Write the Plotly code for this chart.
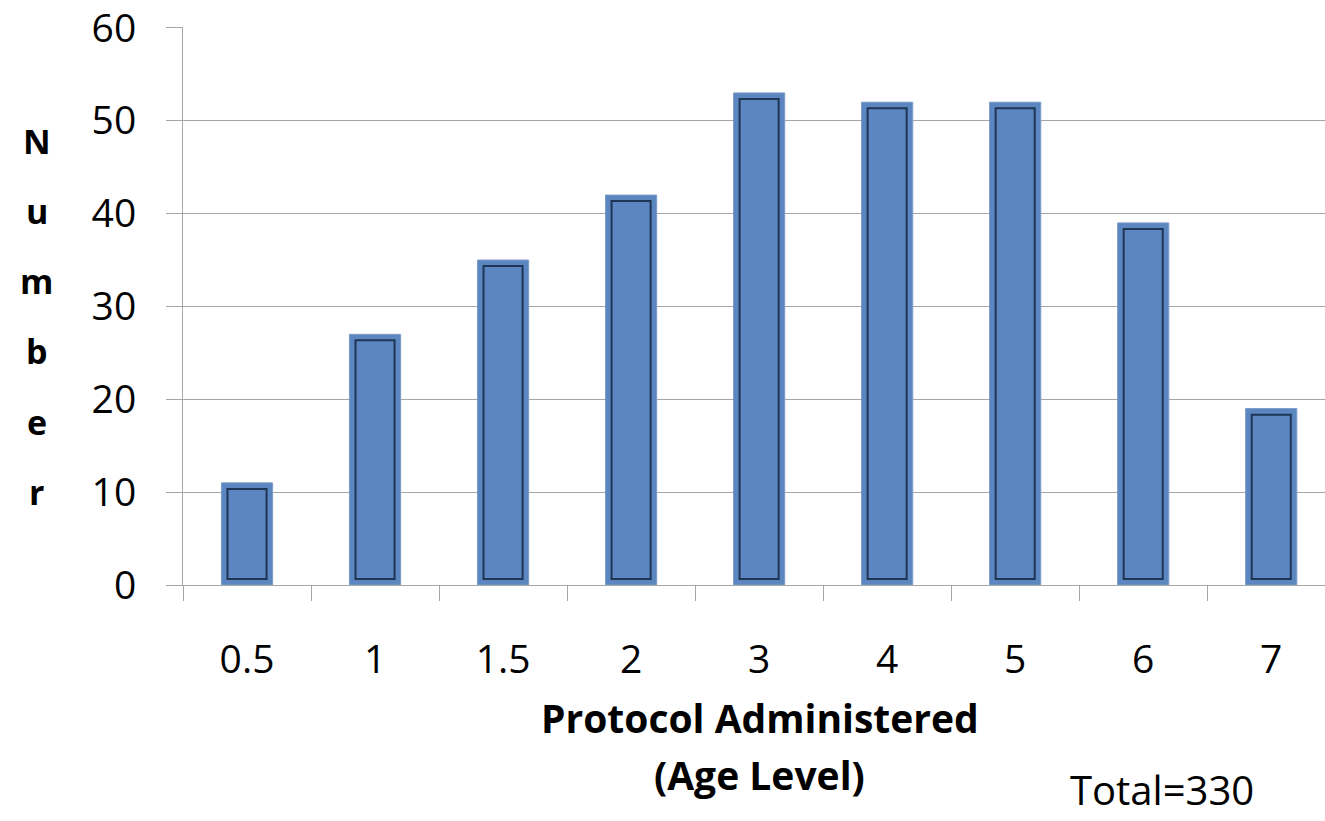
import plotly.graph_objects as go

# Protocol age levels and number of children administered each protocol
age_levels = ["0.5", "1", "1.5", "2", "3", "4", "5", "6", "7"]
counts = [11, 27, 35, 42, 53, 52, 52, 39, 19]
total_label = "Total=" + str(sum(counts))
y_ticks = [0, 10, 20, 30, 40, 50, 60]
y_letters = list("Number")

FONT = "Open Sans, Lato, DejaVu Sans, sans-serif"
FILL = "#5B86BF"
EDGE_DARK = "#1F3555"
GRID = "#A6A6A6"

# inner bevel inset in data units (bar rim)
inset = 0.65

fig = go.Figure()
fig.add_trace(go.Bar(
    x=age_levels, y=counts, width=0.4,
    marker=dict(color=FILL, line=dict(color="#7C9CC8", width=1)),
    hoverinfo="x+y", showlegend=False,
))
fig.add_trace(go.Bar(
    x=age_levels, y=[c - 2 * inset for c in counts], base=inset, width=0.305,
    marker=dict(color=FILL, line=dict(color=EDGE_DARK, width=2)),
    hoverinfo="skip", showlegend=False,
))

annotations = []
for i, ch in enumerate(y_letters):
    annotations.append(dict(
        text="<b>%s</b>" % ch, xref="paper", yref="y", x=-0.128, y=47.8 - i * 7.55,
        xanchor="center", yanchor="middle", showarrow=False,
        font=dict(family=FONT, size=34, color="black"),
    ))
annotations.append(dict(
    text="<b>Protocol Administered</b>", xref="paper", yref="paper",
    x=0.505, y=-0.237, xanchor="center", yanchor="middle", showarrow=False,
    font=dict(family=FONT, size=39, color="black"),
))
annotations.append(dict(
    text="<b>(Age Level)</b>", xref="paper", yref="paper",
    x=0.505, y=-0.34, xanchor="center", yanchor="middle", showarrow=False,
    font=dict(family=FONT, size=39, color="black"),
))
annotations.append(dict(
    text=total_label, xref="paper", yref="paper",
    x=0.857, y=-0.42, xanchor="center", yanchor="bottom", showarrow=False,
    font=dict(family=FONT, size=40, color="black"),
))

fig.update_layout(
    width=1325, height=821,
    margin=dict(l=183, r=0, t=27, b=236),
    paper_bgcolor="white", plot_bgcolor="white",
    barmode="overlay",
    font=dict(family=FONT, size=39, color="black"),
    annotations=annotations,
    xaxis=dict(
        type="category", range=[-0.5, 8.42], tickson="boundaries",
        ticks="outside", ticklen=15, tickcolor=GRID, tickwidth=1,
        showline=True, linecolor=GRID, linewidth=1,
        showgrid=False, zeroline=False,
        ticklabelstandoff=40,
        tickfont=dict(family=FONT, size=39, color="black"),
    ),
    yaxis=dict(
        range=[0, 60.1], tickvals=y_ticks,
        ticks="outside", ticklen=16, tickcolor=GRID, tickwidth=1,
        showline=True, linecolor=GRID, linewidth=1,
        showgrid=True, gridcolor=GRID, gridwidth=1, zeroline=False,
        ticklabelstandoff=22, ticklabeloverflow="allow",
        tickfont=dict(family=FONT, size=39, color="black"),
    ),
)

fig.write_html("out.html")
